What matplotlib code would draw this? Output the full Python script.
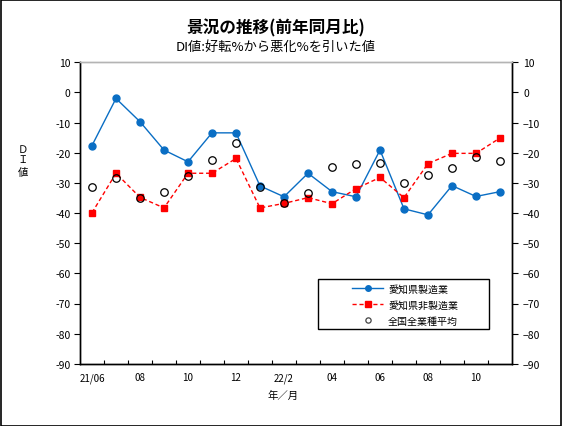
import matplotlib
matplotlib.use("Agg")
import matplotlib.pyplot as plt
from matplotlib.patches import Rectangle
from matplotlib.ticker import FixedLocator, FixedFormatter

plt.rcParams['font.family'] = ['Noto Sans CJK JP', 'DejaVu Sans']

months = ["21/06", "07", "08", "09", "10", "11", "12", "22/1", "22/2", "03",
          "04", "05", "06", "07", "08", "09", "10", "11"]
tick_labels = ["21/06", "", "08", "", "10", "", "12", "", "22/2", "",
               "04", "", "06", "", "08", "", "10", ""]
aichi_mfg = [-17.6, -2.0, -9.7, -19.1, -23.0, -13.4, -13.4, -31.0, -34.6, -26.8,
             -32.9, -34.6, -19.1, -38.6, -40.6, -30.9, -34.5, -32.9]
aichi_nonmfg = [-39.9, -26.8, -34.8, -38.3, -26.8, -26.8, -21.9, -38.3, -36.8, -34.9,
                -36.9, -31.9, -28.2, -34.9, -23.6, -20.2, -20.2, -15.1]
national = [-31.4, -28.4, -35.1, -33.1, -27.7, -22.4, -16.7, -31.4, -36.8, -33.4,
            -24.7, -23.7, -23.5, -30.1, -27.4, -25.1, -21.4, -22.7]
y_ticks = list(range(-90, 11, 10))

W, H = 562, 427
fig = plt.figure(figsize=(W / 100, H / 100), dpi=100)
fig.patch.set_facecolor('white')
fig.add_artist(Rectangle((0.5 / W, 0.5 / H), 1 - 1.5 / W, 1 - 1.5 / H, transform=fig.transFigure,
                         fill=False, edgecolor='black', linewidth=1.2))

L, R, T, B = 80, 512, 63.3, 364.8
ax = fig.add_axes([L / W, 1 - B / H, (R - L) / W, (B - T) / H])

x = list(range(len(months)))
ax.plot(x, aichi_mfg, color='#0A6EC4', linewidth=1.0, marker='o', markersize=5,
        label='愛知県製造業', zorder=3)
ax.plot(x, aichi_nonmfg, color='#FF0000', linewidth=1.0, linestyle=(0, (3, 2)), marker='s',
        markersize=4.8, label='愛知県非製造業', zorder=4)
ax.plot(x, national, linestyle='none', marker='o', markersize=5.4, markerfacecolor='none',
        markeredgecolor='black', markeredgewidth=0.9, label='全国全業種平均', zorder=5)

ax.set_xlim(-0.5, len(months) - 0.5)
ax.set_ylim(-90, 10)

# x axis
ax.xaxis.set_major_locator(FixedLocator(x))
ax.xaxis.set_major_formatter(FixedFormatter(tick_labels))
ax.xaxis.set_minor_locator(FixedLocator([i + 0.5 for i in range(len(months) - 1)]))
ax.tick_params(axis='x', which='major', length=0, pad=6, labelsize=7)
ax.tick_params(axis='x', which='minor', direction='in', length=3, width=0.8)

# y axes
ax.set_yticks(y_ticks)
ax.set_yticklabels([str(v) for v in y_ticks])
ax.tick_params(axis='y', which='major', direction='out', length=4, width=0.8, labelsize=7.5, pad=3)
ax2 = ax.twinx()
ax2.set_ylim(-90, 10)
ax2.set_yticks(y_ticks)
ax2.set_yticklabels([str(v).replace('-', '\u2212') for v in y_ticks])
ax2.tick_params(axis='y', direction='out', length=4, width=0.8, labelsize=7.5, pad=4)

for a in (ax, ax2):
    a.spines['top'].set_color('#b4b4b4')
    a.spines['top'].set_linewidth(1.0)
    for s in ('left', 'right', 'bottom'):
        a.spines[s].set_color('black')
        a.spines[s].set_linewidth(1.0)

# legend frame (drawn separately) and legend entries
fig.add_artist(Rectangle((318 / W, 1 - 330 / H), (489 - 318) / W, (330 - 280) / H,
                         transform=fig.transFigure, facecolor='white', edgecolor='black',
                         linewidth=1.0, zorder=9))
h, l = ax.get_legend_handles_labels()
leg = fig.legend(h, l, loc='center left', bbox_to_anchor=(352 / W, 1 - 305.5 / H),
                 frameon=False, fontsize=7.2,
                 handlelength=3.1, handletextpad=0.5, borderpad=0, labelspacing=0.62,
                 borderaxespad=0)
leg.set_zorder(10)
leg.legend_handles[0].set_markersize(4)
leg.legend_handles[1].set_markersize(4.2)
leg.legend_handles[2].set_markersize(3.8)
leg.legend_handles[2].set_markeredgecolor('#444444')

# texts
fig.text(276 / W, 1 - 28 / H, '景況の推移(前年同月比)', ha='center', va='center',
         fontsize=12, fontweight='bold')
fig.text(276 / W, 1 - 47 / H, 'DI値:好転%から悪化%を引いた値', ha='center', va='center',
         fontsize=9.5)
for ch, yy in (('Ｄ', 150), ('Ｉ', 160), ('値', 173)):
    fig.text(23 / W, 1 - yy / H, ch, ha='center', va='center', fontsize=7.5)
fig.text(283 / W, 1 - 396 / H, '年／月', ha='center', va='center', fontsize=7.5)

fig.savefig('out.png', dpi=100, facecolor='white')
